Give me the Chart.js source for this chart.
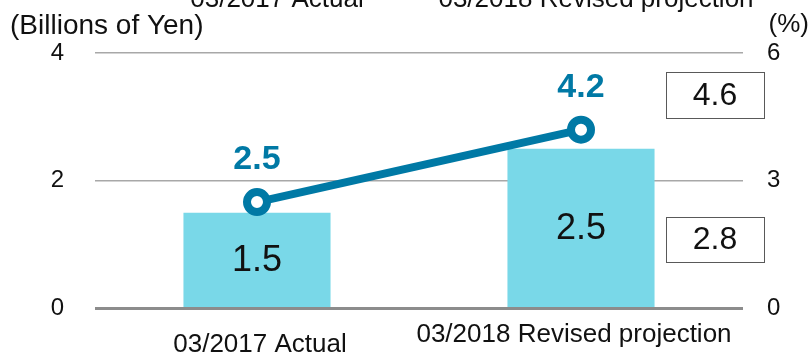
<!DOCTYPE html>
<html>
<head>
<meta charset="utf-8">
<script src="https://cdn.jsdelivr.net/npm/chart.js@4.4.1/dist/chart.umd.min.js"></script>
<style>
  html, body { margin: 0; padding: 0; background: #fff; }
  #wrap { width: 811px; height: 354px; }
</style>
</head>
<body>
<div id="wrap"><canvas id="profitChart" width="811" height="354"></canvas></div>
<script>
const periods = ["03/2017 Actual", "03/2018 Revised projection"];
const amounts = [1.5, 2.5];   // billions of yen (bars, left axis)
const ratios = [2.5, 4.2];    // % (line, right axis)
const boxNotes = ["4.6", "2.8"];
const leftMax = 4;
const rightMax = 6;

const FONT = "'Liberation Sans', Arial, sans-serif";
const BAR_COLOR = "#79d8e8";
const LINE_COLOR = "#0079a5";

const annotate = {
  id: "annotate",
  afterDatasetsDraw(chart) {
    const ctx = chart.ctx;
    ctx.save();
    ctx.textAlign = "center";
    ctx.textBaseline = "middle";

    // values inside the bars
    const bars = chart.getDatasetMeta(0).data;
    ctx.font = "36px " + FONT;
    ctx.fillStyle = "#111";
    bars.forEach((b, i) => {
      ctx.fillText(amounts[i].toFixed(1), b.x, (b.y + b.base) / 2 + 1);
    });

    // values above the line points
    const pts = chart.getDatasetMeta(1).data;
    ctx.font = "bold 34px " + FONT;
    ctx.fillStyle = LINE_COLOR;
    pts.forEach((p, i) => {
      ctx.fillText(ratios[i].toFixed(1), p.x, p.y - 42);
    });
    ctx.restore();
  },
  afterDraw(chart) {
    const ctx = chart.ctx;
    const x = chart.scales.x;
    ctx.save();
    ctx.fillStyle = "#111";

    // axis titles
    ctx.textBaseline = "middle";
    ctx.textAlign = "left";
    ctx.font = "28px " + FONT;
    ctx.fillText("(Billions of Yen)", 10, 26);
    ctx.textAlign = "right";
    ctx.font = "26px " + FONT;
    ctx.fillText("(%)", 809, 25);

    // category labels along the top edge and under the axis
    ctx.textAlign = "center";
    ctx.textBaseline = "alphabetic";
    const topDx = [20, 15];
    const botDx = [3, -7];
    const botY = [352, 342];
    periods.forEach((p, i) => {
      const cx = x.getPixelForValue(i);
      ctx.fillText(p, cx + topDx[i], 7);
      ctx.fillText(p, cx + botDx[i], botY[i]);
    });

    // boxed notes on the right
    const boxes = [[666, 72, 98, 46], [666, 217, 98, 45]];
    ctx.strokeStyle = "#595959";
    ctx.lineWidth = 1;
    ctx.font = "32px " + FONT;
    ctx.textBaseline = "middle";
    boxNotes.forEach((t, i) => {
      const [bx, by, bw, bh] = boxes[i];
      ctx.strokeRect(bx + 0.5, by + 0.5, bw, bh);
      ctx.fillText(t, bx + bw / 2, by + bh / 2 + 1);
    });
    ctx.restore();
  }
};

new Chart(document.getElementById("profitChart"), {
  data: {
    labels: periods,
    datasets: [
      {
        type: "bar",
        data: amounts,
        yAxisID: "y",
        backgroundColor: BAR_COLOR,
        barPercentage: 0.454,
        categoryPercentage: 1,
        order: 2
      },
      {
        type: "line",
        data: ratios,
        yAxisID: "y1",
        borderColor: LINE_COLOR,
        borderWidth: 8,
        pointRadius: 10,
        pointBorderWidth: 8,
        pointBackgroundColor: "#fff",
        pointBorderColor: LINE_COLOR,
        tension: 0,
        order: 1
      }
    ]
  },
  options: {
    responsive: false,
    animation: false,
    devicePixelRatio: 1,
    layout: { padding: { top: 53, left: 0, right: 0, bottom: 0 } },
    plugins: { legend: { display: false }, tooltip: { enabled: false } },
    scales: {
      x: {
        type: "category",
        offset: true,
        grid: { display: false },
        border: { display: false },
        ticks: { display: false },
        afterFit(s) { s.height = 44; }
      },
      y: {
        position: "left",
        min: 0,
        max: leftMax,
        border: { display: false },
        grid: {
          drawTicks: false,
          color: (c) => (c.tick.value === 0 ? "#8c8c8c" : "#a8a8a8"),
          lineWidth: (c) => (c.tick.value === 0 ? 3 : 1.5)
        },
        ticks: {
          stepSize: 2,
          padding: 31,
          color: "#111",
          font: { family: FONT, size: 24 }
        },
        afterFit(s) { s.width = 95; }
      },
      y1: {
        position: "right",
        min: 0,
        max: rightMax,
        border: { display: false },
        grid: { display: false, drawTicks: false },
        ticks: {
          stepSize: 3,
          padding: 24,
          color: "#111",
          font: { family: FONT, size: 24 }
        },
        afterFit(s) { s.width = 68; }
      }
    }
  },
  plugins: [annotate]
});
</script>
</body>
</html>
